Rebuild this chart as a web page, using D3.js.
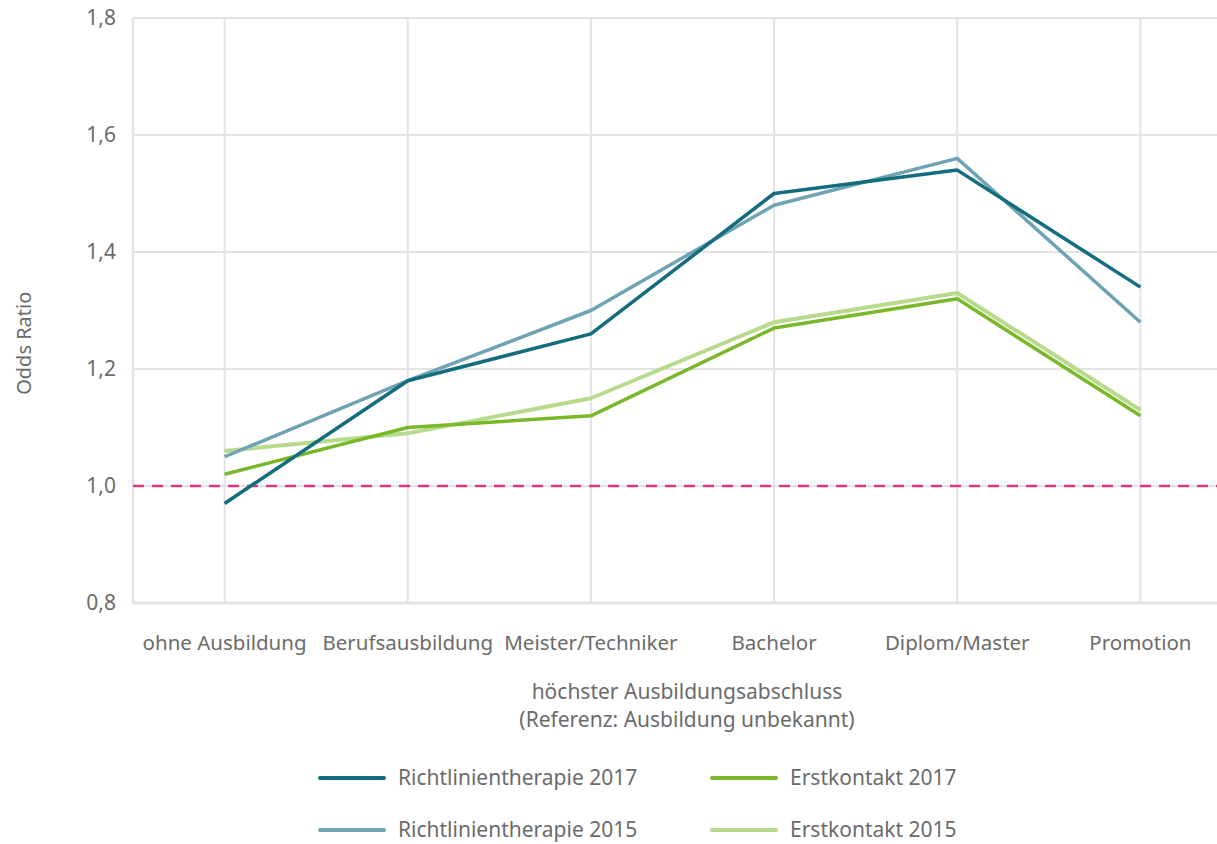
<!DOCTYPE html>
<html>
<head>
<meta charset="utf-8">
<script src="https://cdn.jsdelivr.net/npm/d3@7"></script>
<style>
  body { margin: 0; background: #fff; }
  text { font-family: "Noto Sans", sans-serif; fill: #6b6b6b; }
</style>
</head>
<body>
<div id="chart"></div>
<script>
// Categories and series
const categories = ['ohne Ausbildung', 'Berufsausbildung', 'Meister/Techniker', 'Bachelor', 'Diplom/Master', 'Promotion'];
const richt2017 = [0.97, 1.18, 1.26, 1.50, 1.54, 1.34];
const richt2015 = [1.05, 1.18, 1.30, 1.48, 1.56, 1.28];
const erst2017 = [1.02, 1.10, 1.12, 1.27, 1.32, 1.12];
const erst2015 = [1.06, 1.09, 1.15, 1.28, 1.33, 1.13];
const yTicks = [0.8, 1.0, 1.2, 1.4, 1.6, 1.8];

const width = 1217, height = 844;
const margin = { left: 133, top: 18, right: -15, bottom: 241 };

const svg = d3.select('#chart').append('svg')
  .attr('width', width)
  .attr('height', height);

const chartW = width - margin.left - margin.right;
const chartH = height - margin.top - margin.bottom;

const x = d3.scalePoint().domain(categories).range([0, chartW]).padding(0.5);
const y = d3.scaleLinear().domain([0.8, 1.8]).range([chartH, 0]);

const g = svg.append('g').attr('transform', 'translate(' + margin.left + ',' + margin.top + ')');

// Horizontal grid
g.selectAll('.hgrid').data(yTicks.filter(d => d > 0.8)).enter().append('line')
  .attr('x1', 0).attr('x2', chartW)
  .attr('y1', d => y(d)).attr('y2', d => y(d))
  .attr('stroke', '#e3e3e3').attr('stroke-width', 2);

// Vertical grid
g.selectAll('.vgrid').data(categories).enter().append('line')
  .attr('x1', d => x(d)).attr('x2', d => x(d))
  .attr('y1', 0).attr('y2', chartH)
  .attr('stroke', '#e3e3e3').attr('stroke-width', 2);

// Left + bottom axis lines
g.append('line').attr('x1', 0).attr('x2', 0).attr('y1', 0).attr('y2', chartH)
  .attr('stroke', '#e3e3e3').attr('stroke-width', 2.5);
g.append('line').attr('x1', -1).attr('x2', chartW).attr('y1', chartH).attr('y2', chartH)
  .attr('stroke', '#e3e3e3').attr('stroke-width', 3);

// Reference line at 1.0
g.append('line')
  .attr('x1', 0).attr('x2', chartW)
  .attr('y1', y(1)).attr('y2', y(1))
  .attr('stroke', '#e0357f').attr('stroke-width', 2.5)
  .attr('stroke-dasharray', '11,8');

// Y tick labels
g.selectAll('.ylab').data(yTicks).enter().append('text')
  .attr('x', -17).attr('y', d => y(d)).attr('dy', '0.35em')
  .attr('text-anchor', 'end')
  .style('font-size', '21px')
  .text(d => d3.format('.1f')(d).replace('.', ','));

// X tick labels
g.selectAll('.xlab').data(categories).enter().append('text')
  .attr('x', d => x(d)).attr('y', chartH + 47)
  .attr('text-anchor', 'middle')
  .style('font-size', '20.5px')
  .text(d => d);

// Series
const series = [
  { name: 'Erstkontakt 2015', values: erst2015, color: '#b7da8c', w: 4 },
  { name: 'Erstkontakt 2017', values: erst2017, color: '#79b829', w: 3.5 },
  { name: 'Richtlinientherapie 2015', values: richt2015, color: '#6ea3b4', w: 3.5 },
  { name: 'Richtlinientherapie 2017', values: richt2017, color: '#146d7e', w: 3.5 }
];

const line = d3.line()
  .x((d, i) => x(categories[i]))
  .y(d => y(d));

g.selectAll('.series').data(series).enter().append('path')
  .attr('d', d => line(d.values))
  .attr('fill', 'none')
  .attr('stroke', d => d.color)
  .attr('stroke-width', d => d.w)
  .attr('stroke-linejoin', 'round');

// Axis titles
svg.append('text')
  .attr('transform', 'translate(31,' + (margin.top + chartH * 0.556) + ') rotate(-90)')
  .attr('text-anchor', 'middle')
  .style('font-size', '20px')
  .text('Odds Ratio');

svg.append('text')
  .attr('x', 687).attr('y', 699)
  .attr('text-anchor', 'middle')
  .style('font-size', '21px')
  .text('höchster Ausbildungsabschluss');
svg.append('text')
  .attr('x', 687).attr('y', 727)
  .attr('text-anchor', 'middle')
  .style('font-size', '21px')
  .text('(Referenz: Ausbildung unbekannt)');

// Legend
const legendItems = [
  { name: 'Richtlinientherapie 2017', color: '#146d7e', lx: 320, ly: 778 },
  { name: 'Erstkontakt 2017', color: '#79b829', lx: 712, ly: 778 },
  { name: 'Richtlinientherapie 2015', color: '#6ea3b4', lx: 320, ly: 830 },
  { name: 'Erstkontakt 2015', color: '#b7da8c', lx: 712, ly: 830 }
];
const leg = svg.selectAll('.legend').data(legendItems).enter().append('g')
  .attr('transform', d => 'translate(' + d.lx + ',' + d.ly + ')');
leg.append('line')
  .attr('x1', 0).attr('x2', 64).attr('y1', 0).attr('y2', 0)
  .attr('stroke', d => d.color).attr('stroke-width', 4)
  .attr('stroke-linecap', 'round');
leg.append('text')
  .attr('x', 78).attr('y', 0).attr('dy', '0.35em')
  .style('font-size', '21px')
  .text(d => d.name);
</script>
</body>
</html>
